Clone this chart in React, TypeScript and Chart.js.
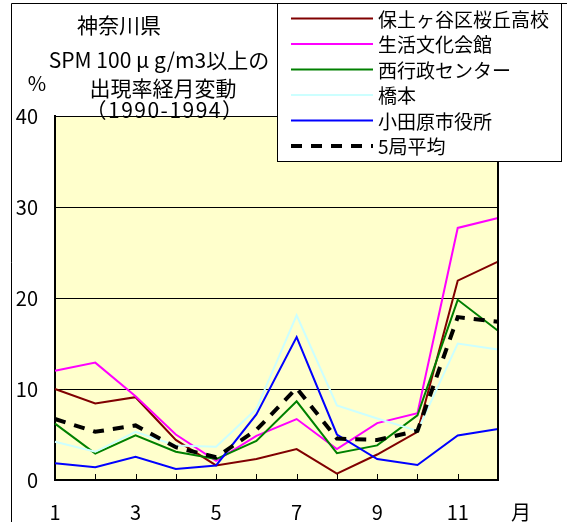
import React, { useEffect, useRef } from 'react';
import { Chart, registerables } from 'chart.js';

Chart.register(...registerables);

const months = ['1', '2', '3', '4', '5', '6', '7', '8', '9', '10', '11', '12'];
const seriesNames = ['保土ヶ谷区桜丘高校', '生活文化会館', '西行政センター', '橋本', '小田原市役所', '5局平均'];
const hodogaya = [10.0, 8.4, 9.1, 4.4, 1.6, 2.3, 3.4, 0.7, 2.8, 5.3, 21.9, 24.0];
const seikatsu = [12.0, 12.9, 9.2, 5.0, 2.1, 4.85, 6.7, 3.4, 6.25, 7.35, 27.7, 28.8];
const nishi = [6.2, 2.9, 4.9, 3.1, 2.3, 4.3, 8.65, 2.95, 3.8, 7.1, 19.8, 16.4];
const hashimoto = [4.2, 3.1, 5.3, 3.8, 3.65, 7.8, 18.1, 8.2, 6.75, 5.4, 15.0, 14.35];
const odawara = [1.85, 1.4, 2.55, 1.2, 1.6, 7.2, 15.7, 5.0, 2.3, 1.65, 4.9, 5.6];
const average = [6.7, 5.3, 6.0, 3.6, 2.5, 5.5, 10.1, 4.55, 4.4, 5.4, 17.9, 17.4];
const yTicks = [0, 10, 20, 30, 40];
const titleLines = ['神奈川県', 'SPM 100 μ g/m3以上の', '出現率経月変動', '（1990-1994）'];

const FONT = '"Noto Sans CJK JP", "Noto Sans", sans-serif';

const decorPlugin = {
  id: 'decor',
  beforeDraw(chart: any) {
    const { ctx, chartArea } = chart;
    ctx.save();
    ctx.fillStyle = '#ffffff';
    ctx.fillRect(0, 0, chart.width, chart.height);
    ctx.fillStyle = '#FFFFCC';
    ctx.fillRect(chartArea.left, chartArea.top, chartArea.right - chartArea.left, chartArea.bottom - chartArea.top);
    ctx.restore();
  },
  afterDraw(chart: any) {
    const { ctx, chartArea } = chart;
    const xs = chart.scales.x;
    ctx.save();
    // right edge of plot
    ctx.strokeStyle = '#000';
    ctx.lineWidth = 2;
    ctx.beginPath();
    ctx.moveTo(chartArea.right, chartArea.top);
    ctx.lineTo(chartArea.right, chartArea.bottom + 1);
    ctx.stroke();
    // inside tick marks on x axis
    ctx.lineWidth = 1;
    months.forEach((m, i) => {
      const x = Math.round(xs.getPixelForValue(i)) + 0.5;
      ctx.beginPath();
      ctx.moveTo(x, chartArea.bottom);
      ctx.lineTo(x, chartArea.bottom - 6);
      ctx.stroke();
    });
    // outer frame (left and top)
    ctx.beginPath();
    ctx.moveTo(11.5, chart.height);
    ctx.lineTo(11.5, 3.5);
    ctx.lineTo(chart.width, 3.5);
    ctx.stroke();

    // titles
    ctx.fillStyle = '#000';
    ctx.textAlign = 'center';
    ctx.textBaseline = 'middle';
    ctx.font = `21px ${FONT}`;
    const tPos = [[119, 25], [159, 60], [163, 88], [165, 110]];
    titleLines.forEach((t, i) => {
      ctx.letterSpacing = i === 3 ? '1.5px' : '0px';
      ctx.fillText(t, tPos[i][0], tPos[i][1]);
    });
    ctx.letterSpacing = '0px';
    ctx.font = `20px ${FONT}`;
    ctx.fillText('%', 37, 83);
    ctx.fillText('月', chartArea.right + 23, 512);

    // legend box
    const lx = 277.5, ly = 3.5, lw = 284, lh = 158;
    ctx.fillStyle = '#fff';
    ctx.fillRect(lx, ly, lw, lh);
    ctx.strokeStyle = '#000';
    ctx.lineWidth = 1;
    ctx.strokeRect(lx, ly, lw, lh);
    ctx.font = `19px ${FONT}`;
    ctx.textAlign = 'left';
    chart.data.datasets.forEach((ds: any, i: number) => {
      const y = 18.5 + i * 25.5;
      ctx.strokeStyle = ds.borderColor;
      ctx.lineWidth = ds.borderWidth;
      ctx.setLineDash(ds.borderDash || []);
      ctx.beginPath();
      ctx.moveTo(291, y);
      ctx.lineTo(373, y);
      ctx.stroke();
      ctx.setLineDash([]);
      ctx.fillStyle = '#000';
      ctx.fillText(ds.label, 378, y + 1);
    });
    ctx.restore();
  },
};

export default function App() {
  const ref = useRef<HTMLCanvasElement | null>(null);
  useEffect(() => {
    document.body.style.margin = '0';
    const colors = ['#800000', '#FF00FF', '#008000', '#CCFFFF', '#0000FF', '#000000'];
    const values = [hodogaya, seikatsu, nishi, hashimoto, odawara, average];
    const datasets = values.map((v, i) => ({
      label: seriesNames[i],
      data: v,
      borderColor: colors[i],
      backgroundColor: colors[i],
      borderWidth: i === 5 ? 4 : 2,
      borderDash: i === 5 ? [11, 9] : undefined,
      pointRadius: 0,
      tension: 0,
      fill: false,
      order: -i,
    }));
    const chart = new Chart(ref.current as HTMLCanvasElement, {
      type: 'line',
      data: { labels: months, datasets },
      options: {
        animation: false,
        responsive: false,
        devicePixelRatio: 1,
        layout: { padding: { top: 116, right: 69, left: 0, bottom: 0 } },
        plugins: {
          legend: { display: false },
          title: { display: false },
          tooltip: { enabled: false },
        },
        scales: {
          x: {
            type: 'category',
            offset: false,
            grid: { display: false },
            border: { display: true, color: '#000', width: 2 },
            ticks: {
              autoSkip: false,
              maxRotation: 0,
              padding: 12,
              color: '#000',
              font: { family: FONT, size: 20 },
              callback: (_v: any, i: number) => (i % 2 === 0 ? months[i] : ''),
            },
            afterFit: (s: any) => {
              s.height = 42;
            },
          },
          y: {
            min: yTicks[0],
            max: yTicks[yTicks.length - 1],
            ticks: {
              stepSize: 10,
              padding: 17,
              color: '#000',
              font: { family: FONT, size: 20 },
            },
            grid: { color: '#000', lineWidth: 1, drawTicks: false },
            border: { display: true, color: '#000', width: 2 },
            afterFit: (s: any) => {
              s.width = 55;
            },
          },
        },
      },
      plugins: [decorPlugin],
    });
    return () => chart.destroy();
  }, []);
  return <canvas ref={ref} width={567} height={522} style={{ display: 'block' }} />;
}
